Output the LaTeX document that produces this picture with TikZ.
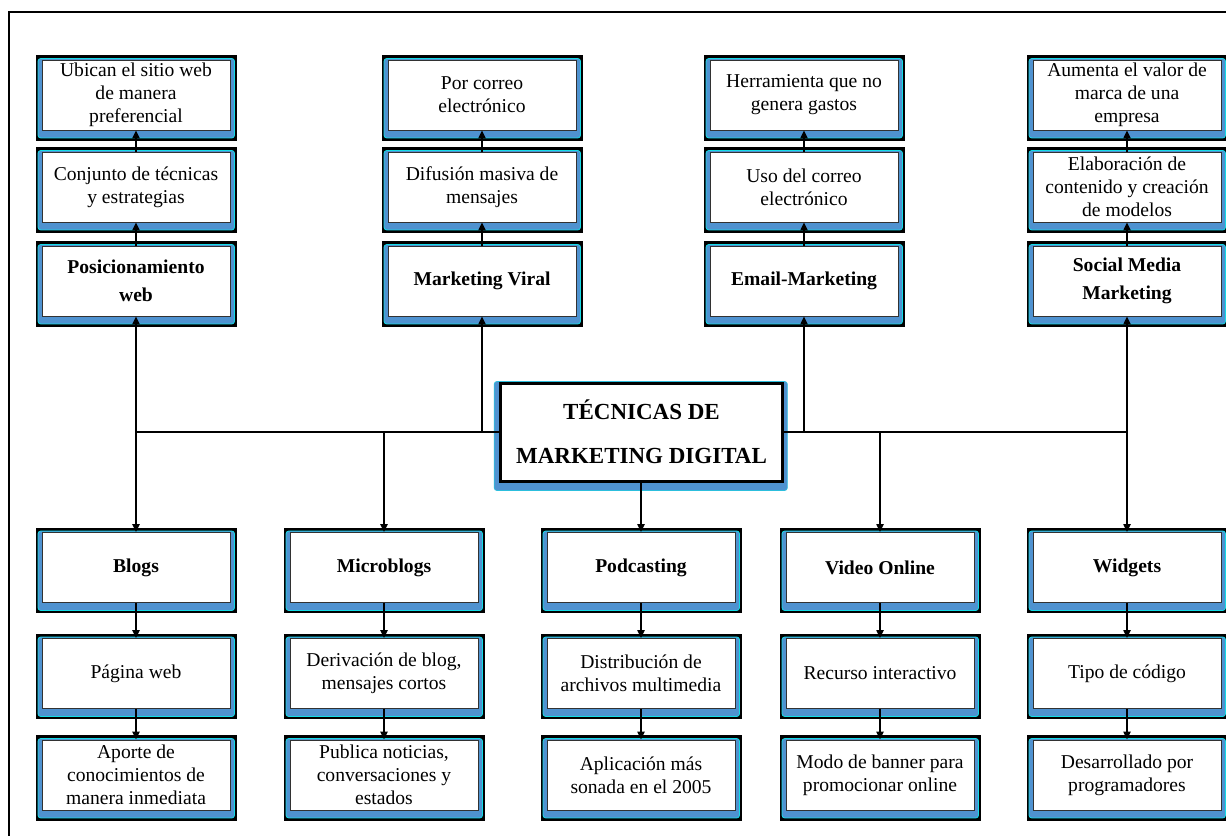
\documentclass[tikz,border=0pt]{standalone}
\usepackage{fontspec}
\setmainfont{Liberation Serif}
\usetikzlibrary{calc,backgrounds,arrows.meta}
\definecolor{boxblue}{RGB}{79,146,208}
\definecolor{boxcyan}{RGB}{20,220,230}
\definecolor{innerline}{RGB}{50,50,50}
\tikzset{
 txt/.style={draw=innerline, line width=0.7pt, fill=white, minimum width=141pt, minimum height=52.5pt, inner sep=0pt, align=center, font=\fontsize{14.7}{17.4}\selectfont},
 ttl/.style={txt, font=\bfseries\fontsize{14.7}{21}\selectfont},
 conn/.style={line width=1pt, draw=black},
 arr/.style={conn, -{Triangle[width=5.5pt,length=6pt]}},
}
\newcommand\mkframe[1]{%
 \fill[black] ($(#1.north west)+(-5.5,-4.5)$) rectangle ($(#1.south east)+(6.5,10.5)$);
 \filldraw[fill=boxblue, draw=boxcyan, line width=0.6pt, rounded corners=2pt] ($(#1.north west)+(-3.5,-1)$) rectangle ($(#1.south east)+(4,7.5)$);}
\begin{document}
\begin{tikzpicture}[x=0.75pt,y=-0.75pt]
\useasboundingbox (0,0) rectangle (1226,835);
% top columns
\node[txt] (t11) at (136,95) {Ubican el sitio web\\de manera\\preferencial};
\node[txt] (t12) at (136,187) {Conjunto de técnicas\\y estrategias};
\node[ttl] (t13) at (136,281) {Posicionamiento\\web};
\node[txt] (t21) at (482,95) {Por correo\\electrónico};
\node[txt] (t22) at (482,187) {Difusión masiva de\\mensajes};
\node[ttl] (t23) at (482,281) {Marketing Viral};
\node[txt] (t31) at (804,95) {Herramienta que no\\genera gastos};
\node[txt] (t32) at (804,187) {Uso del correo\\electrónico};
\node[ttl] (t33) at (804,281) {Email-Marketing};
\node[txt] (t41) at (1127,95) {Aumenta el valor de\\marca de una\\empresa};
\node[txt] (t42) at (1127,187) {Elaboración de\\contenido y creación\\de modelos};
\node[ttl] (t43) at (1127,281) {Social Media\\Marketing};
% center
\node[draw=black, line width=2.25pt, fill=white, minimum width=212pt, minimum height=73.5pt, inner sep=0pt, align=center, font=\bfseries\fontsize{17.25}{33}\selectfont] (c) at (641.5,432) {TÉCNICAS DE\\MARKETING DIGITAL};
% bottom columns
\node[ttl] (b11) at (136,567.5) {Blogs};
\node[txt] (b12) at (136,673.5) {Página web};
\node[txt] (b13) at (136,775) {Aporte de\\conocimientos de\\manera inmediata};
\node[ttl] (b21) at (384,567.5) {Microblogs};
\node[txt] (b22) at (384,673.5) {Derivación de blog,\\mensajes cortos};
\node[txt] (b23) at (384,775) {Publica noticias,\\conversaciones y\\estados};
\node[ttl] (b31) at (641,567.5) {Podcasting};
\node[txt] (b32) at (641,673.5) {Distribución de\\archivos multimedia};
\node[txt] (b33) at (641,775) {Aplicación más\\sonada en el 2005};
\node[ttl] (b41) at (880,567.5) {Video Online};
\node[txt] (b42) at (880,673.5) {Recurso interactivo};
\node[txt] (b43) at (880,775) {Modo de banner para\\promocionar online};
\node[ttl] (b51) at (1127,567.5) {Widgets};
\node[txt] (b52) at (1127,673.5) {Tipo de código};
\node[txt] (b53) at (1127,775) {Desarrollado por\\programadores};
\coordinate (hl) at (136,432);
\coordinate (hr) at (1127,432);
\begin{scope}[on background layer]
 \fill[white] (0,0) rectangle (1226,835);
 \draw[line width=1.5pt] (9,12) rectangle (1250,870);
 \foreach \n in {t11,t12,t13,t21,t22,t23,t31,t32,t33,t41,t42,t43,b11,b12,b13,b21,b22,b23,b31,b32,b33,b41,b42,b43,b51,b52,b53}{\mkframe{\n}}
 \filldraw[fill=boxblue, draw=boxcyan!60!boxblue, line width=0.5pt, rounded corners=2pt] ($(c.north west)+(-4.5,0)$) rectangle ($(c.south east)+(3,8)$);
\end{scope}
% connectors
\draw[conn] (c.west) -- (hl);
\draw[conn] (c.east) -- (hr);
\draw[arr] (hl) -- (t13.south);
\draw[arr] (hl -| t23.south) -- (t23.south);
\draw[arr] (hr -| t33.south) -- (t33.south);
\draw[arr] (hr) -- (t43.south);
\foreach \c in {1,2,3,4}{
 \draw[arr] (t\c3.north) -- (t\c2.south);
 \draw[arr] (t\c2.north) -- (t\c1.south);
}
\draw[arr] (hl) -- (b11.north);
\draw[arr] (hl -| b21.north) -- (b21.north);
\draw[arr] (c.south -| b31.north) -- (b31.north);
\draw[arr] (hr -| b41.north) -- (b41.north);
\draw[arr] (hr) -- (b51.north);
\foreach \c in {1,2,3,4,5}{
 \draw[arr] (b\c1.south) -- (b\c2.north);
 \draw[arr] (b\c2.south) -- (b\c3.north);
}
\end{tikzpicture}
\end{document}
